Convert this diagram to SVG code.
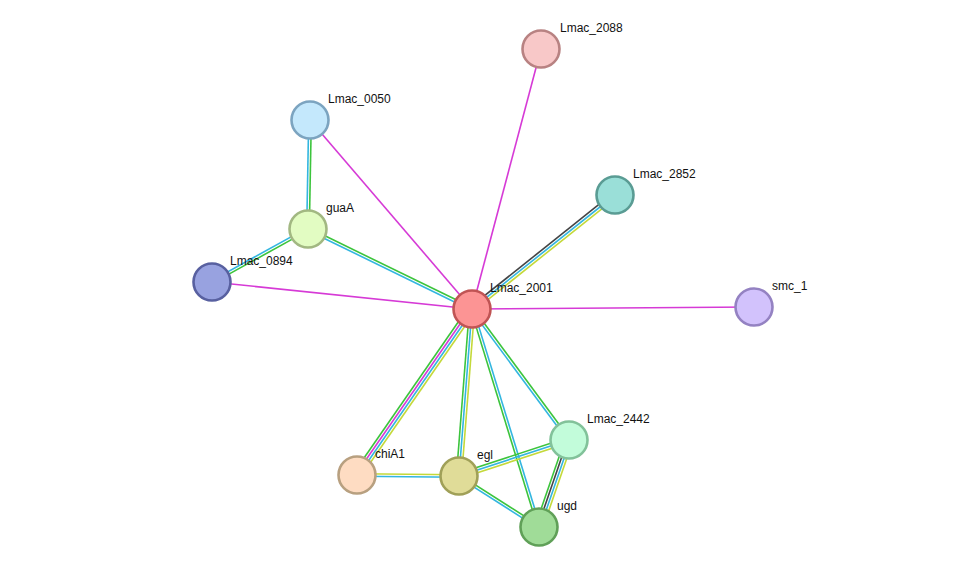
<svg xmlns="http://www.w3.org/2000/svg" width="975" height="573" viewBox="0 0 975 573">
<style>
.e line{stroke-width:1.6;fill:none}
.g{stroke:#3cc43c}.b{stroke:#33b6e0}.m{stroke:#d63ad6}.y{stroke:#c4d93a}.k{stroke:#444444}
.n circle{stroke-width:2.6}
.n text{font-family:"Liberation Sans",Arial,sans-serif;font-size:12px;fill:#111}
</style>
<rect width="975" height="573" fill="#ffffff"/>
<g id="connectors" class="e">
<line class="m" x1="472" y1="309" x2="541" y2="49"/>
<line class="m" x1="472" y1="309" x2="310" y2="120"/>
<line class="m" x1="472" y1="309" x2="212" y2="282"/>
<line class="m" x1="472" y1="309" x2="754" y2="307"/>
<line class="k" x1="470.38" y1="306.97" x2="613.38" y2="192.97"/>
<line class="b" x1="472" y1="309" x2="615" y2="195"/>
<line class="y" x1="473.62" y1="311.03" x2="616.62" y2="197.03"/>
<line class="g" x1="308.57" y1="227.83" x2="472.57" y2="307.83"/>
<line class="b" x1="307.43" y1="230.17" x2="471.43" y2="310.17"/>
<line class="b" x1="308.7" y1="120" x2="306.7" y2="229"/>
<line class="g" x1="311.3" y1="120" x2="309.3" y2="229"/>
<line class="b" x1="307.37" y1="227.86" x2="211.37" y2="280.86"/>
<line class="g" x1="308.63" y1="230.14" x2="212.63" y2="283.14"/>
<line class="g" x1="468.79" y1="306.78" x2="353.79" y2="472.78"/>
<line class="m" x1="470.93" y1="308.26" x2="355.93" y2="474.26"/>
<line class="b" x1="473.07" y1="309.74" x2="358.07" y2="475.74"/>
<line class="y" x1="475.21" y1="311.22" x2="360.21" y2="477.22"/>
<line class="g" x1="469.41" y1="308.8" x2="456.41" y2="475.8"/>
<line class="b" x1="472" y1="309" x2="459" y2="476"/>
<line class="y" x1="474.59" y1="309.2" x2="461.59" y2="476.2"/>
<line class="g" x1="470.76" y1="309.38" x2="537.76" y2="527.38"/>
<line class="b" x1="473.24" y1="308.62" x2="540.24" y2="526.62"/>
<line class="g" x1="473.05" y1="308.23" x2="570.05" y2="439.23"/>
<line class="b" x1="470.95" y1="309.77" x2="567.95" y2="440.77"/>
<line class="y" x1="357" y1="473.7" x2="459" y2="474.7"/>
<line class="b" x1="357" y1="476.3" x2="459" y2="477.3"/>
<line class="g" x1="458.19" y1="473.53" x2="568.19" y2="437.53"/>
<line class="b" x1="459" y1="476" x2="569" y2="440"/>
<line class="y" x1="459.81" y1="478.47" x2="569.81" y2="442.47"/>
<line class="g" x1="459.7" y1="474.9" x2="539.7" y2="525.9"/>
<line class="b" x1="458.3" y1="477.1" x2="538.3" y2="528.1"/>
<line class="g" x1="565.31" y1="438.73" x2="535.31" y2="525.73"/>
<line class="k" x1="567.77" y1="439.58" x2="537.77" y2="526.58"/>
<line class="b" x1="570.23" y1="440.42" x2="540.23" y2="527.42"/>
<line class="y" x1="572.69" y1="441.27" x2="542.69" y2="528.27"/>
</g>
<g id="Lmac_2088" class="n"><circle cx="541" cy="49" r="18.5" fill="#f8c8c8" stroke="#b88282"/><text x="560" y="32">Lmac_2088</text></g>
<g id="Lmac_0050" class="n"><circle cx="310" cy="120" r="18.5" fill="#c4e8fc" stroke="#7ca4c0"/><text x="328" y="103">Lmac_0050</text></g>
<g id="Lmac_2852" class="n"><circle cx="615" cy="195" r="18.5" fill="#9adfd8" stroke="#5a9c94"/><text x="633" y="178">Lmac_2852</text></g>
<g id="guaA" class="n"><circle cx="308" cy="229" r="18.5" fill="#e2fcc2" stroke="#a2b882"/><text x="326" y="212">guaA</text></g>
<g id="Lmac_0894" class="n"><circle cx="212" cy="282" r="18.5" fill="#98a2e0" stroke="#5860a0"/><text x="230" y="265">Lmac_0894</text></g>
<g id="Lmac_2001" class="n"><circle cx="472" cy="309" r="18.5" fill="#fc9494" stroke="#c05454"/><text x="490" y="292">Lmac_2001</text></g>
<g id="smc_1" class="n"><circle cx="754" cy="307" r="18.5" fill="#d2c2fc" stroke="#9482c2"/><text x="772" y="290">smc_1</text></g>
<g id="Lmac_2442" class="n"><circle cx="569" cy="440" r="18.5" fill="#c2fcda" stroke="#82c29a"/><text x="587" y="423">Lmac_2442</text></g>
<g id="chiA1" class="n"><circle cx="357" cy="475" r="18.5" fill="#fedcc2" stroke="#b8a080"/><text x="375" y="458">chiA1</text></g>
<g id="egl" class="n"><circle cx="459" cy="476" r="18.5" fill="#e0dc98" stroke="#a0a058"/><text x="477" y="459">egl</text></g>
<g id="ugd" class="n"><circle cx="539" cy="527" r="18.5" fill="#a0dc98" stroke="#60a058"/><text x="557" y="510">ugd</text></g>
</svg>
